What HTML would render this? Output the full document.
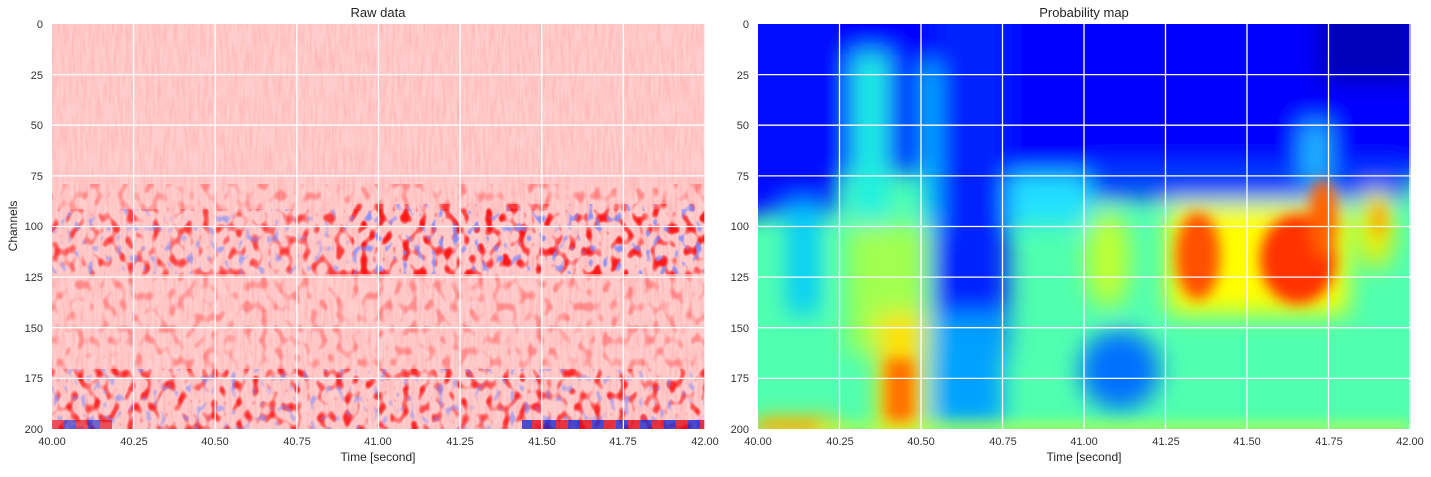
<!DOCTYPE html><html><head><style>
body{margin:0;background:#fff;font-family:"Liberation Sans",sans-serif;}
</style></head><body>
<svg width="1431" height="472" xmlns="http://www.w3.org/2000/svg" font-family="Liberation Sans, sans-serif">
<defs>
<filter id="noise" x="0" y="0" width="100%" height="100%">
<feTurbulence type="fractalNoise" baseFrequency="0.35 0.04" numOctaves="2" seed="3"/>
<feColorMatrix type="matrix" values="0 0 0 0 1  0 0 0 0 0.3  0 0 0 0 0.3  0 0 0 1.6 -0.6"/>
</filter>
<filter id="red" x="0" y="0" width="100%" height="100%">
<feTurbulence type="fractalNoise" baseFrequency="0.12 0.09" numOctaves="1" seed="7"/>
<feColorMatrix type="matrix" values="0 0 0 0 1  0 0 0 0 0  0 0 0 0 0  0 0 0 5 -2.6"/>
</filter>
<filter id="blue" x="0" y="0" width="100%" height="100%">
<feTurbulence type="fractalNoise" baseFrequency="0.14 0.1" numOctaves="1" seed="21"/>
<feColorMatrix type="matrix" values="0 0 0 0 0.2  0 0 0 0 0.25  0 0 0 0 1  0 0 0 6 -3.5"/>
</filter>
<filter id="bl" x="-50%" y="-50%" width="200%" height="200%"><feGaussianBlur stdDeviation="12"/></filter>
<filter id="bl2" x="-50%" y="-50%" width="200%" height="200%"><feGaussianBlur stdDeviation="7"/></filter>
<pattern id="stripe" width="24" height="10" patternUnits="userSpaceOnUse"><rect width="12" height="10" fill="#e00010"/><rect x="12" width="12" height="10" fill="#1020d0"/></pattern>
<clipPath id="c1"><rect x="0" y="0" width="653" height="405"/></clipPath>
</defs>

<g transform="translate(52,24)">
<g clip-path="url(#c1)">
<rect width="653" height="405" fill="#ffcdcd"/>
<rect width="653" height="405" filter="url(#noise)" opacity="0.5"/>
<rect y="160" width="653" height="245" filter="url(#red)" opacity="0.3"/>
<rect x="0" y="185" width="653" height="65" filter="url(#red)" opacity="0.55"/>
<rect x="300" y="180" width="353" height="70" filter="url(#red)" opacity="0.6"/>
<rect x="0" y="185" width="653" height="65" filter="url(#blue)" opacity="0.6"/>
<rect x="300" y="180" width="353" height="70" filter="url(#blue)" opacity="0.7"/>
<rect x="0" y="345" width="653" height="60" filter="url(#red)" opacity="0.7"/>
<rect x="0" y="345" width="653" height="60" filter="url(#blue)" opacity="0.6"/>
<rect x="470" y="396" width="183" height="9" fill="url(#stripe)" opacity="0.75"/>
<rect x="0" y="396" width="60" height="9" fill="url(#stripe)" opacity="0.6"/>
</g>
<g stroke="#fff" stroke-width="1.3">
<line x1="81.6" y1="0" x2="81.6" y2="405"/><line x1="163.2" y1="0" x2="163.2" y2="405"/><line x1="244.9" y1="0" x2="244.9" y2="405"/><line x1="326.5" y1="0" x2="326.5" y2="405"/><line x1="408.1" y1="0" x2="408.1" y2="405"/><line x1="489.8" y1="0" x2="489.8" y2="405"/><line x1="571.4" y1="0" x2="571.4" y2="405"/><line x1="653" y1="0" x2="653" y2="405"/>
<line x1="0" y1="50.6" x2="653" y2="50.6"/><line x1="0" y1="101.2" x2="653" y2="101.2"/><line x1="0" y1="151.9" x2="653" y2="151.9"/><line x1="0" y1="202.5" x2="653" y2="202.5"/><line x1="0" y1="253.1" x2="653" y2="253.1"/><line x1="0" y1="303.7" x2="653" y2="303.7"/><line x1="0" y1="354.4" x2="653" y2="354.4"/>
</g>
</g>

<svg x="758" y="24" width="653" height="405" overflow="hidden">
<rect width="653" height="405" fill="#50ffb0"/>
<g filter="url(#bl)">
<rect x="-40" y="-40" width="740" height="190" fill="#0000ff"/>
<rect x="330" y="140" width="320" height="35" fill="#0040ff"/>
<rect x="-40" y="-40" width="120" height="230" fill="#0010ff"/>
<rect x="30" y="180" width="30" height="110" fill="#00c8ff"/>
<rect x="175" y="-40" width="75" height="370" fill="#0020ff"/>
<rect x="175" y="290" width="70" height="110" fill="#00a0ff"/>
<rect x="165" y="40" width="14" height="170" fill="#10d0ff"/>
<rect x="95" y="30" width="35" height="190" fill="#20f0e0"/>
<rect x="90" y="200" width="80" height="130" fill="#a0ff50"/>
<rect x="250" y="150" width="80" height="50" fill="#20e0ff"/>
<rect x="545" y="100" width="25" height="60" fill="#20c0ff"/>
<rect x="560" y="-40" width="100" height="100" fill="#0000b8"/>
<ellipse cx="362" cy="346" rx="40" ry="40" fill="#0070ff"/>
<ellipse cx="350" cy="235" rx="22" ry="50" fill="#c0ff30"/>
<rect x="410" y="180" width="180" height="110" fill="#ffff00"/>
<ellipse cx="618" cy="205" rx="18" ry="40" fill="#f0f000"/>
<rect x="0" y="395" width="80" height="20" fill="#ffc000"/>
<rect x="120" y="290" width="45" height="120" fill="#ffe000"/>
</g>
<g filter="url(#bl2)">
<ellipse cx="440" cy="232" rx="22" ry="44" fill="#ff5000"/>
<ellipse cx="540" cy="235" rx="38" ry="45" fill="#ff3000"/>
<ellipse cx="565" cy="195" rx="14" ry="40" fill="#ff6000"/>
<rect x="128" y="335" width="28" height="70" fill="#ff7000"/>
<ellipse cx="621" cy="196" rx="6" ry="18" fill="#ffa000"/>
<rect x="0" y="400" width="653" height="8" fill="#d0ff30"/>
<rect x="0" y="398" width="60" height="8" fill="#ffa000"/>
</g>
<g stroke="#fff" stroke-width="1.3">
<line x1="81.5" y1="0" x2="81.5" y2="405"/><line x1="163" y1="0" x2="163" y2="405"/><line x1="244.5" y1="0" x2="244.5" y2="405"/><line x1="326" y1="0" x2="326" y2="405"/><line x1="407.5" y1="0" x2="407.5" y2="405"/><line x1="489" y1="0" x2="489" y2="405"/><line x1="570.5" y1="0" x2="570.5" y2="405"/><line x1="652" y1="0" x2="652" y2="405"/>
<line x1="0" y1="50.6" x2="653" y2="50.6"/><line x1="0" y1="101.2" x2="653" y2="101.2"/><line x1="0" y1="151.9" x2="653" y2="151.9"/><line x1="0" y1="202.5" x2="653" y2="202.5"/><line x1="0" y1="253.1" x2="653" y2="253.1"/><line x1="0" y1="303.7" x2="653" y2="303.7"/><line x1="0" y1="354.4" x2="653" y2="354.4"/>
</g>
</svg>

<g font-size="13" fill="#262626" text-anchor="middle">
<text x="378" y="17">Raw data</text>
<text x="1084" y="17">Probability map</text>
<text x="378" y="461" font-size="12">Time [second]</text>
<text x="1084" y="461" font-size="12">Time [second]</text>
<text transform="translate(17,226) rotate(-90)" font-size="12">Channels</text>
</g>
<g font-size="11" fill="#333" text-anchor="end">
<text x="43" y="28">0</text><text x="43" y="79">25</text><text x="43" y="129">50</text><text x="43" y="180">75</text><text x="43" y="230">100</text><text x="43" y="281">125</text><text x="43" y="332">150</text><text x="43" y="382">175</text><text x="43" y="433">200</text>
<text x="749" y="28">0</text><text x="749" y="79">25</text><text x="749" y="129">50</text><text x="749" y="180">75</text><text x="749" y="230">100</text><text x="749" y="281">125</text><text x="749" y="332">150</text><text x="749" y="382">175</text><text x="749" y="433">200</text>
</g>
<g font-size="11" fill="#333" text-anchor="middle">
<text x="52" y="445">40.00</text><text x="134" y="445">40.25</text><text x="215" y="445">40.50</text><text x="297" y="445">40.75</text><text x="378" y="445">41.00</text><text x="460" y="445">41.25</text><text x="542" y="445">41.50</text><text x="623" y="445">41.75</text><text x="705" y="445">42.00</text>
<text x="758" y="445">40.00</text><text x="840" y="445">40.25</text><text x="921" y="445">40.50</text><text x="1003" y="445">40.75</text><text x="1084" y="445">41.00</text><text x="1166" y="445">41.25</text><text x="1247" y="445">41.50</text><text x="1329" y="445">41.75</text><text x="1410" y="445">42.00</text>
</g>
</svg>
</body></html>
